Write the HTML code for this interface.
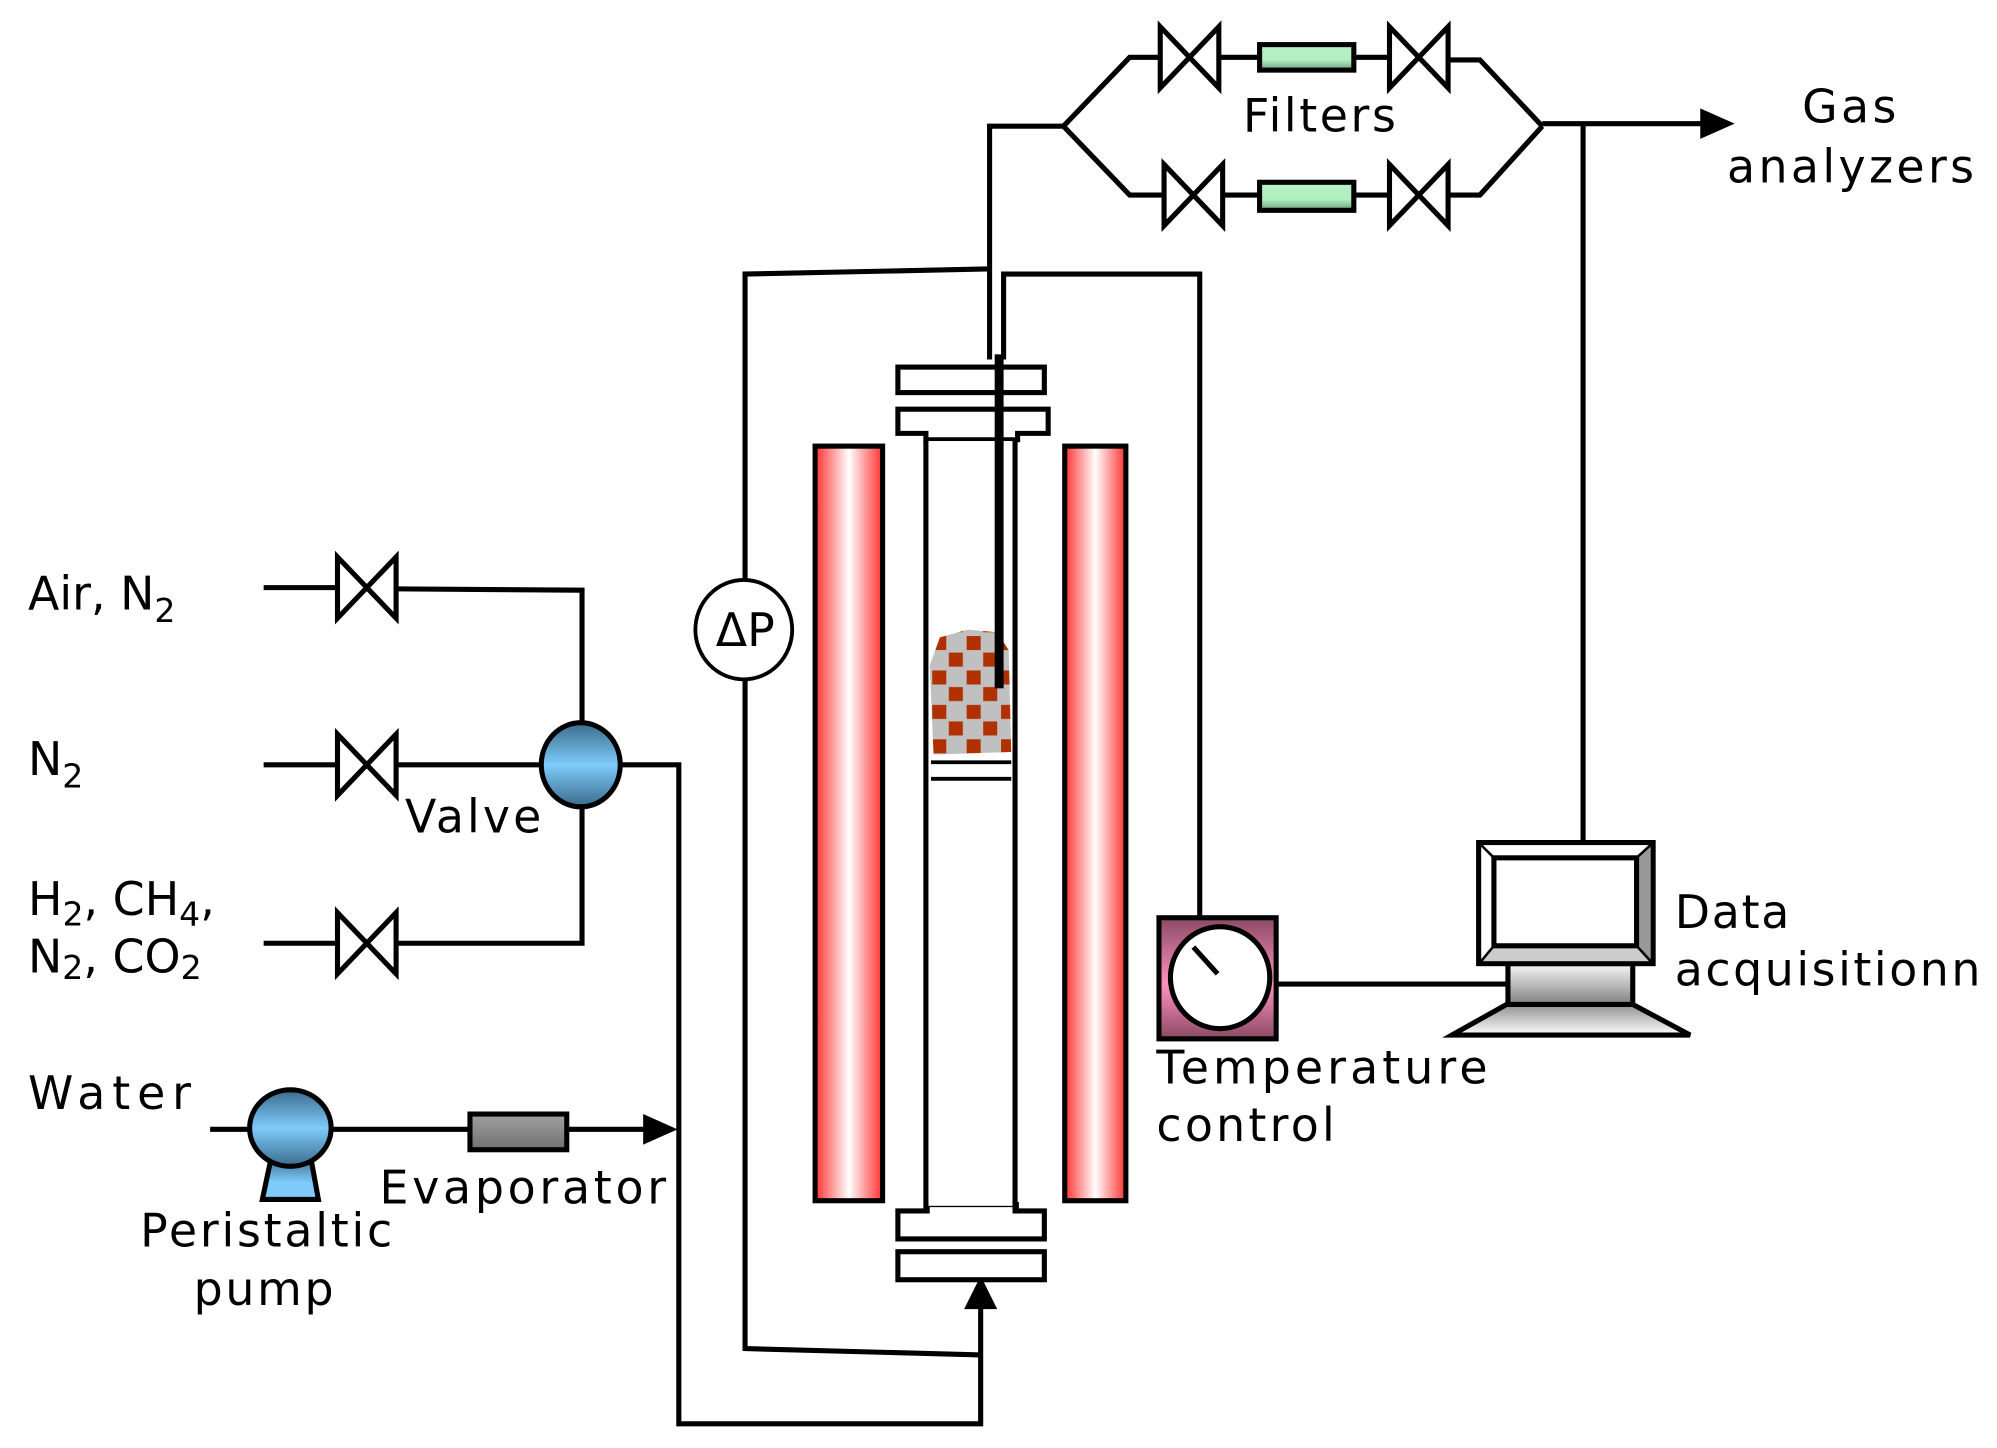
<!DOCTYPE html>
<html><head><meta charset="utf-8"><style>
html,body{margin:0;padding:0;background:#fff;}
svg{display:block;}
text{font-family:"DejaVu Sans","Liberation Sans",sans-serif;font-size:36px;fill:#000;}
</style></head><body>
<svg width="1997" height="1448" viewBox="0 0 1568 1136" preserveAspectRatio="none" xmlns="http://www.w3.org/2000/svg">
<defs>
<linearGradient id="heat" x1="0" x2="1" y1="0" y2="0">
<stop offset="0" stop-color="#ff3030"/><stop offset="0.5" stop-color="#ffffff"/><stop offset="1" stop-color="#ff3030"/></linearGradient>
<linearGradient id="blue" x1="0" x2="0" y1="0" y2="1">
<stop offset="0" stop-color="#3a6a8a"/><stop offset="0.5" stop-color="#7ecbfb"/><stop offset="1" stop-color="#3a6a8a"/></linearGradient>
<linearGradient id="blue2" x1="0" x2="0" y1="0" y2="1">
<stop offset="0" stop-color="#3a6a8a"/><stop offset="0.6" stop-color="#7ecbfb"/><stop offset="1" stop-color="#7ecbfb"/></linearGradient>
<linearGradient id="gray" x1="0" x2="0" y1="0" y2="1">
<stop offset="0" stop-color="#a0a0a0"/><stop offset="1" stop-color="#707070"/></linearGradient>
<linearGradient id="green" x1="0" x2="0" y1="0" y2="1">
<stop offset="0" stop-color="#b8f0c8"/><stop offset="0.6" stop-color="#b0f0c0"/><stop offset="1" stop-color="#70a080"/></linearGradient>
<linearGradient id="pink" x1="0" x2="0" y1="0" y2="1">
<stop offset="0" stop-color="#8a4a64"/><stop offset="0.55" stop-color="#ff90c0"/><stop offset="1" stop-color="#8a4a64"/></linearGradient>
<linearGradient id="base" x1="0" x2="0" y1="0" y2="1">
<stop offset="0" stop-color="#f8f8f8"/><stop offset="1" stop-color="#808080"/></linearGradient>
<linearGradient id="kb" x1="0" x2="0" y1="0" y2="1">
<stop offset="0" stop-color="#909090"/><stop offset="1" stop-color="#ffffff"/></linearGradient>
<g id="bow"><path d="M0,-24 L46,24 L46,-24 L0,24 Z" fill="#fff" stroke="#000" stroke-width="4" stroke-linejoin="miter"/></g>
<pattern id="cat" width="27" height="27" patternUnits="userSpaceOnUse" x="730" y="497">
<rect width="27" height="27" fill="#c0c0c0"/>
<rect x="2" y="2" width="11" height="11" fill="#b03000"/><rect x="15" y="15" width="11" height="11" fill="#b03000"/>
</pattern>
</defs>
<g stroke="#000" stroke-width="4" fill="none">
<line x1="207" y1="461" x2="265" y2="461"/>
<path d="M312,462 L457,463 L457,568"/>
<line x1="207" y1="600" x2="265" y2="600"/>
<line x1="312" y1="600" x2="425" y2="600"/>
<line x1="207" y1="740" x2="265" y2="740"/>
<path d="M312,740 L457,740 L457,633"/>
<path d="M488,600 L533,600 L533,1117 L770,1117 L770,1025"/>
<line x1="165" y1="886" x2="196" y2="886"/>
<line x1="260" y1="886" x2="510" y2="886"/>
<path d="M770,1063 L585,1058 L585,215 L775,211"/>
<path d="M777,282 L777,99 L835,99"/>
<path d="M835,99 L887,45 L912,45"/><line x1="957" y1="45" x2="990" y2="45"/><line x1="1063" y1="45" x2="1092" y2="45"/><path d="M1137,47 L1162,47 L1211,99"/>
<path d="M835,99 L887,153 L914,153"/><line x1="960" y1="153" x2="990" y2="153"/><line x1="1063" y1="153" x2="1090" y2="153"/><path d="M1137,153 L1162,153 L1211,99"/>
<line x1="1211" y1="97" x2="1338" y2="97"/>
<line x1="1243" y1="97" x2="1243" y2="662"/>
<path d="M788,282 L788,215 L942,215 L942,720"/>
<line x1="1002" y1="772" x2="1185" y2="772"/>
</g>
<polygon points="1335,85 1362,97 1335,109" fill="#000"/>
<polygon points="505,874 532,886 505,898" fill="#000"/>
<polygon points="757,1027 770,1001 783,1027" fill="#000"/>
<use href="#bow" x="265" y="461"/>
<use href="#bow" x="265" y="600"/>
<use href="#bow" x="265" y="740"/>
<use href="#bow" x="911" y="45"/>
<use href="#bow" x="1091" y="45"/>
<use href="#bow" x="914" y="153"/>
<use href="#bow" x="1091" y="153"/>
<rect x="989" y="35" width="74" height="20" fill="url(#green)" stroke="#000" stroke-width="4"/>
<rect x="989" y="143" width="74" height="22" fill="url(#green)" stroke="#000" stroke-width="4"/>
<ellipse cx="456" cy="600" rx="31" ry="33" fill="url(#blue)" stroke="#000" stroke-width="4"/>
<polygon points="213,908 244,908 250,941 206,941" fill="url(#blue2)" stroke="#000" stroke-width="4"/>
<ellipse cx="228" cy="885" rx="32" ry="30" fill="url(#blue)" stroke="#000" stroke-width="4"/>
<rect x="369" y="874" width="76" height="28" fill="url(#gray)" stroke="#000" stroke-width="4"/>
<ellipse cx="584" cy="494" rx="38" ry="39" fill="#fff" stroke="#000" stroke-width="3"/>
<text x="562" y="507" font-size="30">ΔP</text>
<rect x="640" y="350" width="53" height="592" fill="url(#heat)" stroke="#000" stroke-width="4"/>
<rect x="836" y="350" width="48" height="592" fill="url(#heat)" stroke="#000" stroke-width="4"/>
<g stroke="#000" stroke-width="4" fill="#fff">
<rect x="705" y="288" width="115" height="20"/>
<path d="M705,321 L823,321 L823,340 L799,340 L799,345 L727,345 L727,340 L705,340 Z"/>
<path d="M705,950 L728,950 L728,945 L798,945 L798,950 L820,950 L820,972 L705,972 Z" />
<rect x="705" y="982" width="115" height="22"/>
</g>
<rect x="729" y="346" width="68" height="600" fill="#fff"/>
<g stroke="#000" stroke-width="4">
<line x1="727" y1="345" x2="727" y2="952"/>
<line x1="797" y1="345" x2="797" y2="952"/>
</g>
<path d="M738,500 L760,494 L783,496 L792,510 L794,590 L733,592 L730,522 Z" fill="url(#cat)"/>
<g stroke="#000" stroke-width="3"><line x1="731" y1="598" x2="794" y2="598"/><line x1="731" y1="611" x2="794" y2="611"/></g>
<rect x="781" y="278" width="7" height="262" fill="#000"/>
<rect x="910" y="720" width="92" height="95" fill="url(#pink)" stroke="#000" stroke-width="4"/>
<ellipse cx="958" cy="767" rx="39" ry="40" fill="#fff" stroke="#000" stroke-width="4"/>
<line x1="937" y1="743" x2="956" y2="764" stroke="#000" stroke-width="4"/>
<polygon points="1183,788 1282,788 1327,812 1140,812" fill="url(#kb)" stroke="#000" stroke-width="4"/>
<rect x="1184" y="756" width="98" height="32" fill="url(#base)" stroke="#000" stroke-width="4"/>
<rect x="1161" y="661" width="137" height="95" fill="#fff" stroke="#000" stroke-width="4"/>
<polygon points="1173,742 1285,742 1296,754 1163,754" fill="#ccc"/>
<polygon points="1285,673 1296,663 1296,754 1285,742" fill="#999"/>
<rect x="1173" y="673" width="112" height="69" fill="#fff" stroke="#000" stroke-width="4"/>
<g stroke="#000" stroke-width="2"><line x1="1163" y1="663" x2="1173" y2="673"/><line x1="1296" y1="663" x2="1285" y2="673"/><line x1="1163" y1="754" x2="1173" y2="742"/><line x1="1296" y1="754" x2="1285" y2="742"/></g>
<text x="22" y="478">Air, N<tspan font-size="26" dy="10">2</tspan></text>
<text x="22" y="608">N<tspan font-size="26" dy="10">2</tspan></text>
<text x="22" y="718">H<tspan font-size="26" dy="8">2</tspan><tspan dy="-8">, CH</tspan><tspan font-size="26" dy="8">4</tspan><tspan dy="-8">,</tspan></text>
<text x="22" y="763">N<tspan font-size="26" dy="5">2</tspan><tspan dy="-5">, CO</tspan><tspan font-size="26" dy="5">2</tspan></text>
<text x="318" y="653" textLength="107">Valve</text>
<text x="22" y="870" textLength="128">Water</text>
<text x="298" y="944" textLength="225">Evaporator</text>
<text x="110" y="978" textLength="198">Peristaltic</text>
<text x="152" y="1024" textLength="110">pump</text>
<text x="976" y="103" textLength="120">Filters</text>
<text x="1415" y="96" textLength="74">Gas</text>
<text x="1356" y="143" textLength="194">analyzers</text>
<text x="908" y="850" textLength="260">Temperature</text>
<text x="908" y="895" textLength="140">control</text>
<text x="1315" y="728" textLength="90">Data</text>
<text x="1315" y="773" textLength="240">acquisitionn</text>
</svg>
</body></html>
